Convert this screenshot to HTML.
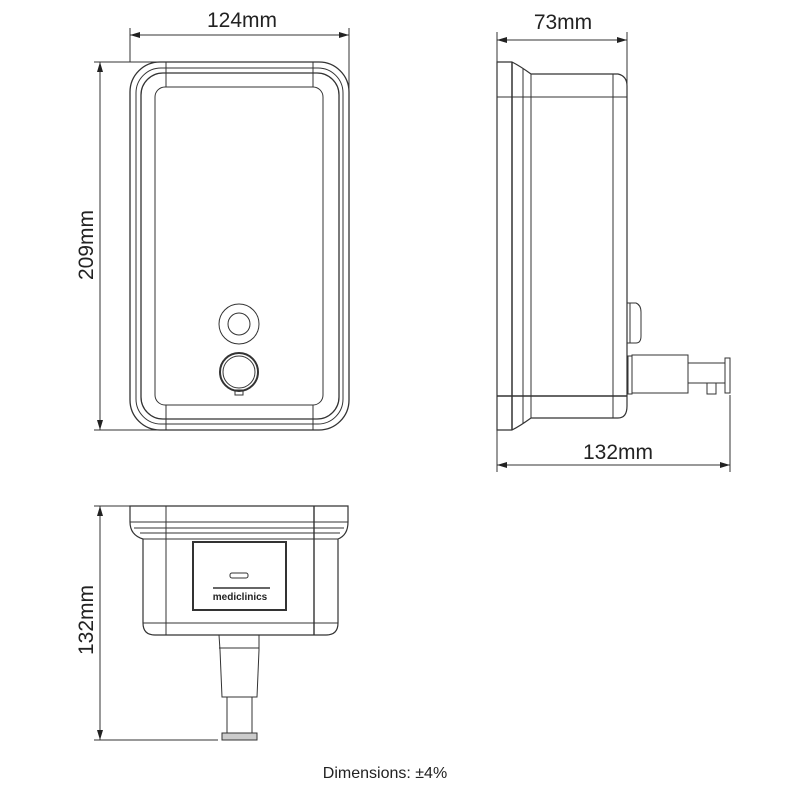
<!DOCTYPE html>
<html><head><style>body{margin:0;background:#fff}svg{display:block}</style></head><body>
<svg width="793" height="793" viewBox="0 0 793 793" xmlns="http://www.w3.org/2000/svg" font-family="Liberation Sans, sans-serif">
<defs><marker id="a" viewBox="0 0 10 6" refX="10" refY="3" markerWidth="10" markerHeight="6" orient="auto-start-reverse" markerUnits="userSpaceOnUse"><path d="M0,0L10,3L0,6z" fill="#222"/></marker></defs>
<g stroke="#333" fill="none" stroke-width="1">
<line x1="130" y1="35" x2="349" y2="35" marker-start="url(#a)" marker-end="url(#a)"/>
<line x1="130" y1="28" x2="130" y2="62"/><line x1="349" y1="28" x2="349" y2="95"/>
<line x1="100" y1="62" x2="100" y2="430" marker-start="url(#a)" marker-end="url(#a)"/>
<line x1="94" y1="62" x2="165" y2="62"/><line x1="94" y1="430" x2="160" y2="430"/>
<rect x="130" y="62" width="219" height="368" rx="30" stroke-width="1.3"/>
<rect x="136" y="68" width="207" height="356" rx="25"/>
<rect x="141" y="73" width="198" height="346" rx="22" stroke-width="1.3"/>
<rect x="155" y="87" width="168" height="318" rx="10"/>
<line x1="166" y1="62" x2="166" y2="87"/><line x1="313" y1="62" x2="313" y2="87"/>
<line x1="166" y1="405" x2="166" y2="430"/><line x1="313" y1="405" x2="313" y2="430"/>
<circle cx="239" cy="324" r="20"/><circle cx="239" cy="324" r="11"/>
<circle cx="239" cy="372" r="19" stroke-width="2"/><circle cx="239" cy="372" r="16"/>
<rect x="235" y="390" width="8" height="5"/>
<line x1="497" y1="40" x2="627" y2="40" marker-start="url(#a)" marker-end="url(#a)"/>
<line x1="497" y1="32" x2="497" y2="95"/><line x1="627" y1="32" x2="627" y2="95"/>
<line x1="497" y1="465" x2="730" y2="465" marker-start="url(#a)" marker-end="url(#a)"/>
<line x1="497" y1="430" x2="497" y2="472"/><line x1="730" y1="395" x2="730" y2="472"/>
<path d="M497,62 H512 Q520,66 531,74 H618 Q627,76 627,86 V406 Q627,418 618,418 H531 Q520,426 512,430 H497 Z" stroke-width="1.2"/>
<line x1="512" y1="62" x2="512" y2="430" stroke-width="1.5"/>
<line x1="523" y1="68" x2="523" y2="424"/><line x1="531" y1="74" x2="531" y2="418"/>
<line x1="613" y1="74" x2="613" y2="418"/>
<line x1="497" y1="97" x2="627" y2="97"/><line x1="497" y1="396" x2="627" y2="396" stroke-width="1.4"/>
<path d="M627,303 H636 Q641,305 641,312 V336 Q641,343 636,343 H627"/><line x1="630" y1="303" x2="630" y2="343"/>
<rect x="628" y="356" width="4" height="38"/>
<rect x="632" y="355" width="56" height="38"/>
<rect x="688" y="363" width="37" height="20"/>
<rect x="725" y="358" width="5" height="35"/><rect x="707" y="383" width="9" height="11"/>
<line x1="100" y1="506" x2="100" y2="740" marker-start="url(#a)" marker-end="url(#a)"/>
<line x1="94" y1="506" x2="160" y2="506"/><line x1="94" y1="740" x2="218" y2="740"/>
<path d="M130,506 H348 V522 Q348,535 338,539 V623 Q338,635 326,635 H155 Q143,635 143,623 V539 Q130,535 130,522 Z" stroke-width="1.2"/>
<line x1="130" y1="522" x2="348" y2="522"/><line x1="134" y1="528" x2="344" y2="528"/>
<line x1="140" y1="533" x2="340" y2="533"/><line x1="143" y1="539" x2="338" y2="539"/>
<line x1="143" y1="623" x2="338" y2="623"/>
<line x1="166" y1="506" x2="166" y2="635"/><line x1="314" y1="506" x2="314" y2="635" stroke-width="1.4"/>
<rect x="193" y="542" width="93" height="68" stroke-width="2"/>
<rect x="230" y="573" width="18" height="5" rx="2"/>
<line x1="213" y1="588" x2="270" y2="588" stroke-width="1.5"/>
<path d="M219,635 H259 V650 L257,697 H222 L220,650 Z"/><line x1="219" y1="648" x2="259" y2="648"/>
<rect x="227" y="697" width="25" height="36"/><rect x="222" y="733" width="35" height="7" fill="#ccc"/>
</g>
<g fill="#222">
<text x="242" y="27" font-size="21" text-anchor="middle">124mm</text>
<text x="563" y="29" font-size="21" text-anchor="middle">73mm</text>
<text x="618" y="459" font-size="21" text-anchor="middle">132mm</text>
<text transform="translate(93,245) rotate(-90)" font-size="21" text-anchor="middle">209mm</text>
<text transform="translate(93,620) rotate(-90)" font-size="21" text-anchor="middle">132mm</text>
<text x="240" y="600" font-size="10" font-weight="bold" text-anchor="middle">mediclinics</text>
<text x="385" y="778" font-size="16" text-anchor="middle">Dimensions: ±4%</text>
</g>
</svg>
</body></html>
